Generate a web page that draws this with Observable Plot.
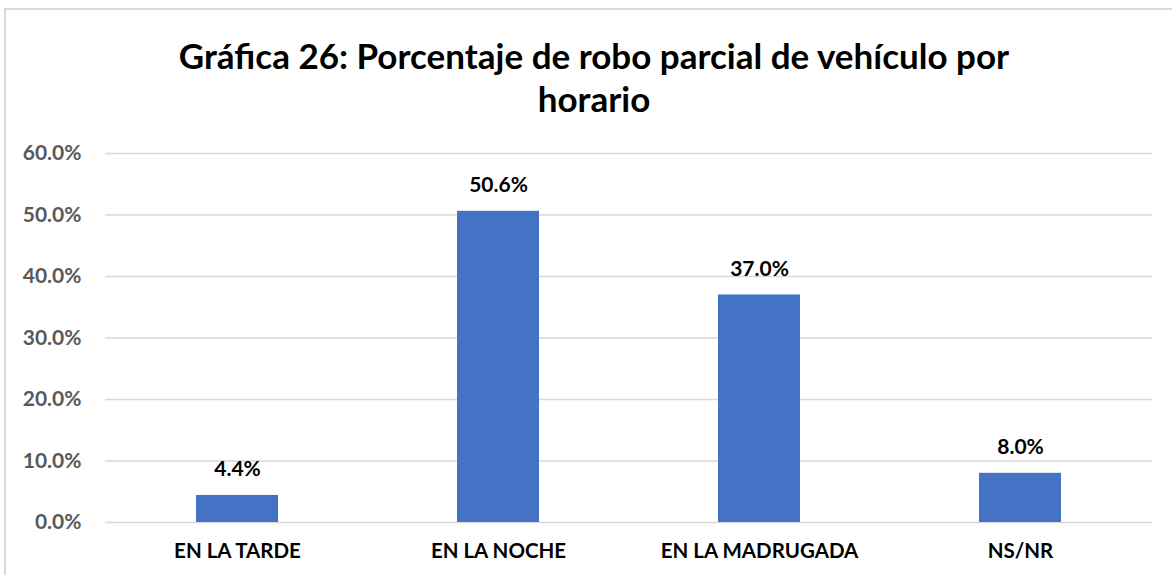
<!DOCTYPE html>
<html>
<head>
<meta charset="utf-8">
<script src="https://cdn.jsdelivr.net/npm/d3@7"></script>
<script src="https://cdn.jsdelivr.net/npm/@observablehq/plot@0.6"></script>
<style>
  html, body { margin: 0; padding: 0; background: #fff; }
  body { width: 1172px; height: 575px; overflow: hidden; position: relative; font-family: Lato, "Open Sans", sans-serif; }
  #frame { position: absolute; left: 4px; top: 8px; width: 1180px; height: 580px; border: 2px solid #d9d9d9; box-sizing: border-box; }
  #title { position: absolute; left: 0; top: 34px; width: 1188px; text-align: center; font-weight: bold; font-size: 35px; line-height: 43px; color: #000; }
  #chart { position: absolute; left: 0; top: 140px; }
</style>
</head>
<body>
<div id="frame"></div>
<div id="title">Gráfica 26: Porcentaje de robo parcial de vehículo por<br>horario</div>
<div id="chart"></div>
<script>
const categories = ["EN LA TARDE", "EN LA NOCHE", "EN LA MADRUGADA", "NS/NR"];
const values = [4.4, 50.6, 37.0, 8.0];
const yTicks = [0, 10, 20, 30, 40, 50, 60];

const data = categories.map((c, i) => ({category: c, value: values[i]}));

const chart = Plot.plot({
  width: 1172,
  height: 435,
  marginTop: 13,
  marginBottom: 53,
  marginLeft: 105,
  marginRight: 20,
  style: {fontFamily: "Lato, 'Open Sans', sans-serif", background: "transparent"},
  x: {domain: categories, paddingInner: 0.687, paddingOuter: 0.3435, label: null},
  y: {domain: [0, 60], label: null},
  marks: [
    Plot.ruleY(yTicks, {stroke: "#d9d9d9", strokeWidth: 1.5}),
    Plot.barY(data, {x: "category", y: "value", fill: "#4472C4"}),
    Plot.text(data, {x: "category", y: "value", text: d => d.value.toFixed(1) + "%", dy: -26, fontSize: 21, fontWeight: "bold", fill: "#000"}),
    Plot.axisY(yTicks, {tickSize: 0, tickPadding: 24, tickFormat: d => d.toFixed(1) + "%", fontSize: 21, fontWeight: "bold", fill: "#595959"}),
    Plot.axisX({tickSize: 0, tickPadding: 21, fontSize: 20.5, fontWeight: "bold", fill: "#000"})
  ]
});
document.getElementById("chart").appendChild(chart);
</script>
</body>
</html>
